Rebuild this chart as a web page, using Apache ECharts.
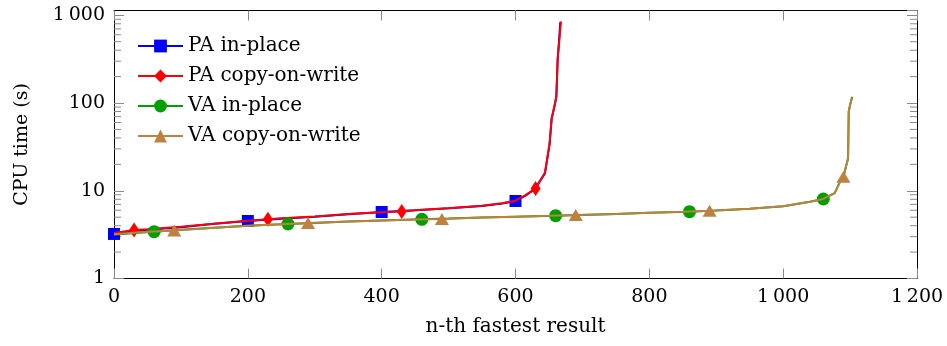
<!DOCTYPE html>
<html>
<head>
<meta charset="utf-8">
<script src="https://cdn.jsdelivr.net/npm/echarts@6/dist/echarts.min.js"></script>
<style>
  html, body { margin: 0; padding: 0; background: #fff; }
  #chart { width: 947px; height: 346px; }
</style>
</head>
<body>
<div id="chart"></div>
<script>
// Datos
const paInX = [0, 20, 50, 100, 150, 200, 250, 300, 350, 400, 450, 500, 550, 580, 600, 615, 629, 644, 651, 654, 658, 661, 663, 667];
const paInY = [3.22, 3.4, 3.6, 3.85, 4.2, 4.52, 4.8, 5.05, 5.4, 5.73, 6.0, 6.3, 6.7, 7.15, 7.65, 8.8, 10.5, 15.8, 34, 66, 90, 117, 310, 840];
const paInMarks = [0, 200, 400, 600];

const paCowX = [0, 30, 50, 100, 150, 200, 230, 250, 300, 350, 400, 430, 450, 500, 550, 580, 600, 615, 630, 644, 651, 654, 658, 661, 663, 668];
const paCowY = [3.3, 3.57, 3.65, 3.9, 4.22, 4.55, 4.73, 4.85, 5.1, 5.42, 5.7, 5.8, 6.0, 6.32, 6.75, 7.2, 7.7, 8.9, 10.6, 16, 35, 67, 91, 118, 315, 850];
const paCowMarks = [30, 230, 430, 630];

const vaInX = [0, 30, 60, 100, 150, 200, 260, 300, 350, 400, 460, 500, 550, 600, 660, 700, 750, 800, 860, 900, 950, 1000, 1040, 1060, 1077, 1085, 1090, 1097, 1098, 1100, 1103];
const vaInY = [3.15, 3.3, 3.42, 3.6, 3.8, 4.0, 4.18, 4.3, 4.45, 4.58, 4.73, 4.82, 4.95, 5.07, 5.2, 5.3, 5.45, 5.6, 5.78, 5.95, 6.25, 6.65, 7.5, 8.06, 9.4, 12.7, 14.4, 23.5, 80, 95, 118];
const vaInMarks = [60, 260, 460, 660, 860, 1060];

const vaCowX = [0, 30, 60, 90, 150, 200, 250, 290, 350, 400, 450, 490, 550, 600, 650, 690, 750, 800, 850, 890, 950, 1000, 1040, 1060, 1077, 1085, 1090, 1097, 1098, 1100, 1103];
const vaCowY = [3.2, 3.32, 3.43, 3.52, 3.8, 4.0, 4.15, 4.3, 4.45, 4.58, 4.7, 4.78, 4.95, 5.07, 5.18, 5.3, 5.45, 5.6, 5.75, 5.9, 6.25, 6.65, 7.5, 8.06, 9.4, 12.7, 14.4, 23.5, 80, 95, 116];
const vaCowMarks = [90, 290, 490, 690, 890, 1090];

const seriesNames = ['PA in-place', 'PA copy-on-write', 'VA in-place', 'VA copy-on-write'];
const yTicks = [1, 10, 100, 1000];
const minorTicks = [2, 3, 4, 5, 6, 7, 8, 9, 20, 30, 40, 50, 60, 70, 80, 90, 200, 300, 400, 500, 600, 700, 800, 900];

const fontFamily = 'DejaVu Serif';
const tickColor = '#8a8a8a';

// miles con espacio fino: 1 000
function fmtNum(v) {
    const s = String(Math.round(v));
    return s.length > 3 ? s.slice(0, -3) + '\u2009' + s.slice(-3) : s;
}

// Construye los puntos, solo algunos con marcador
function buildData(xs, ys, marks) {
    return xs.map((x, i) => {
        const item = {value: [x, ys[i]]};
        if (marks.indexOf(x) < 0) item.symbol = 'none';
        return item;
    });
}

const chart = echarts.init(document.getElementById('chart'));

const option = {
    animation: false,
    backgroundColor: '#fff',
    grid: {left: 114, right: 30, top: 10.5, bottom: 67.5},
    legend: {
        data: seriesNames,
        orient: 'vertical',
        left: 132,
        top: 31,
        itemWidth: 45,
        itemHeight: 16,
        itemGap: 10,
        textStyle: {fontFamily: fontFamily, fontSize: 20, color: '#000'}
    },
    xAxis: [
        {
            type: 'value',
            min: 0,
            max: 1200,
            interval: 200,
            name: 'n-th fastest result',
            nameLocation: 'middle',
            nameGap: 38,
            nameTextStyle: {fontFamily: fontFamily, fontSize: 20, color: '#000'},
            axisLine: {show: true, onZero: false, lineStyle: {color: '#000', width: 1}},
            axisTick: {show: true, inside: true, length: 10, lineStyle: {color: tickColor}},
            axisLabel: {
                fontFamily: fontFamily, fontSize: 19, color: '#000', margin: 9,
                formatter: v => fmtNum(v)
            },
            splitLine: {show: false}
        },
        {
            type: 'value',
            position: 'top',
            min: 0,
            max: 1200,
            interval: 200,
            axisLine: {show: true, onZero: false, lineStyle: {color: '#000', width: 1}},
            axisTick: {show: true, inside: true, length: 10, lineStyle: {color: tickColor}},
            axisLabel: {show: false},
            splitLine: {show: false}
        }
    ],
    yAxis: [
        {
            type: 'log',
            logBase: 10,
            min: 1,
            max: 1134,
            name: 'CPU time (s)',
            nameLocation: 'middle',
            nameGap: 82,
            nameTextStyle: {fontFamily: fontFamily, fontSize: 19, color: '#000'},
            axisLine: {show: true, onZero: false, lineStyle: {color: '#000', width: 1}},
            axisTick: {show: true, inside: true, length: 10, lineStyle: {color: tickColor}},
            axisLabel: {
                fontFamily: fontFamily, fontSize: 19, color: '#000', margin: 9,
                showMaxLabel: false,
                formatter: v => yTicks.indexOf(Math.round(v)) >= 0 ? fmtNum(v) : ''
            },
            splitLine: {show: false},
            minorTick: {show: false}
        },
        {
            type: 'log',
            logBase: 10,
            position: 'right',
            min: 1,
            max: 1134,
            axisLine: {show: true, onZero: false, lineStyle: {color: '#000', width: 1}},
            axisTick: {show: true, inside: true, length: 10, lineStyle: {color: tickColor}},
            axisLabel: {show: false},
            splitLine: {show: false}
        }
    ],
    series: [
        {
            // marcas menores del eje logarítmico (izquierda y derecha)
            type: 'custom',
            name: 'minor',
            silent: true,
            clip: false,
            z: 1,
            data: minorTicks.map(v => [0, v]),
            renderItem: function (params, api) {
                const v = api.value(1);
                const pl = api.coord([0, v]);
                const pr = api.coord([1200, v]);
                return {
                    type: 'group',
                    children: [
                        {type: 'line', shape: {x1: pl[0], y1: pl[1], x2: pl[0] + 7, y2: pl[1]},
                            style: {stroke: tickColor, lineWidth: 1}},
                        {type: 'line', shape: {x1: pr[0] - 7, y1: pr[1], x2: pr[0], y2: pr[1]},
                            style: {stroke: tickColor, lineWidth: 1}}
                    ]
                };
            }
        },
        {
            name: 'PA in-place',
            type: 'line',
            symbol: 'rect',
            symbolSize: 12,
            z: 3,
            lineStyle: {color: '#0000ff', width: 2},
            itemStyle: {color: '#0000ff'},
            data: buildData(paInX, paInY, paInMarks)
        },
        {
            name: 'PA copy-on-write',
            type: 'line',
            symbol: 'diamond',
            symbolSize: [10, 15],
            z: 4,
            lineStyle: {color: '#ff0000', width: 2},
            itemStyle: {color: '#ff0000'},
            data: buildData(paCowX, paCowY, paCowMarks)
        },
        {
            name: 'VA in-place',
            type: 'line',
            symbol: 'circle',
            symbolSize: 13,
            z: 5,
            lineStyle: {color: '#00a000', width: 2},
            itemStyle: {color: '#00a000'},
            data: buildData(vaInX, vaInY, vaInMarks)
        },
        {
            name: 'VA copy-on-write',
            type: 'line',
            symbol: 'triangle',
            symbolSize: [14, 12],
            z: 6,
            lineStyle: {color: '#bf8040', width: 2},
            itemStyle: {color: '#bf8040'},
            data: buildData(vaCowX, vaCowY, vaCowMarks)
        }
    ]
};

chart.setOption(option);
</script>
</body>
</html>
